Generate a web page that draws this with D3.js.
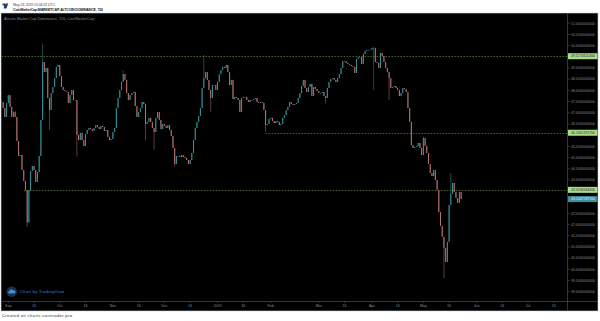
<!DOCTYPE html>
<html><head><meta charset="utf-8">
<script src="https://cdn.jsdelivr.net/npm/d3@7"></script>
<style>html,body{margin:0;padding:0;background:#fff;}svg{display:block;}</style>
</head><body>
<svg id="c" width="600" height="321"></svg>
<script>
// ---- data (daily closes, starting 2018-08-28) ----
const startDate = "2018-08-28";
const closes = [
47.48,47.21,46.81,47.43,47.79,47.27,46.82,47.05,46.81,45.74,
45.07,45.11,44.44,43.95,43.55,42.10,43.55,44.40,44.62,44.44,
43.91,44.35,45.07,46.68,49.27,48.82,49.00,47.66,47.12,47.88,
48.15,48.55,49.05,49.14,48.64,48.15,48.02,47.97,47.93,47.44,
47.79,48.02,47.57,47.57,46.01,45.78,46.10,45.78,45.51,46.05,
46.23,46.32,46.27,46.19,46.32,46.45,46.36,46.27,46.41,46.36,
46.19,46.23,45.92,45.78,45.83,46.14,46.32,47.21,47.66,48.02,
48.38,48.73,48.47,47.88,47.57,47.79,47.88,47.93,47.30,46.81,
47.03,47.21,47.48,47.39,46.50,46.59,46.77,46.59,46.32,46.14,
46.77,47.03,46.68,46.27,46.50,46.41,46.32,46.45,46.23,45.96,
45.43,44.71,45.07,45.07,45.02,45.11,45.02,44.98,44.89,44.71,
44.89,45.20,45.78,46.32,46.59,46.86,47.21,48.11,48.55,48.82,
48.47,48.02,47.66,48.24,48.24,48.02,48.38,48.73,48.91,49.05,
49.00,49.14,48.82,48.24,48.47,47.61,47.71,47.66,47.57,47.03,
47.66,47.71,47.71,47.57,47.48,47.57,47.57,47.61,47.66,47.48,
47.44,47.48,47.44,47.12,46.45,46.50,46.72,46.77,46.63,46.54,
46.63,46.59,46.45,46.50,46.77,46.90,47.12,47.26,47.48,47.39,
47.35,47.39,47.44,47.66,47.88,48.20,48.47,48.11,47.93,48.15,
48.29,47.75,48.15,48.06,47.97,47.88,47.88,47.93,47.75,47.66,
48.11,48.38,48.51,48.55,48.47,48.38,48.55,48.73,49.00,49.31,
49.31,49.23,49.18,49.14,49.09,49.05,48.78,49.40,49.49,49.49,
49.18,49.63,49.76,49.81,49.81,49.81,49.90,49.90,49.27,49.23,
49.00,49.67,49.54,49.27,49.00,48.82,48.55,48.11,48.15,48.20,
48.11,48.02,47.75,47.88,48.11,48.06,47.93,47.21,46.59,45.56,
45.43,45.47,45.52,45.65,45.43,45.11,45.87,45.52,45.20,44.71,
44.31,44.17,44.44,43.99,43.55,42.56,41.94,41.45,40.96,40.33,
41.23,42.88,43.37,43.86,43.46,43.19,42.97,43.46,43.14
];
// notable wicks: [day index, value]
const wickHighs = [[24,50.10],[71,48.90],[118,49.58],[211,49.66],[217,49.95],[246,45.93],[262,44.31]];
const wickLows  = [[15,41.90],[28,46.23],[44,45.04],[84,45.78],[89,45.34],[101,44.59],[122,47.05],[154,46.15],[189,47.42],[217,48.02],[226,47.57],[258,39.61]];
// horizontal levels: [value, label, start day index]
const levelValues = [49.5274625400, 46.1061195700, 43.5534563400];
const levelLabels = ["49.5274625400","46.1061195700","43.5534563400"];
const levelStarts = [0, 154, 13];
const lastLabel = "43.1447287100";
const priceTicks = d3.range(39, 51.001, 0.5);
const headerDate = "May 23, 2019 15:04:22 UTC";
const headerSymbol = "CoinMarketCap:MARKETCAP-ALTCOIN DOMINANCE, 720";
const seriesTitle = "Altcoin Market Cap Dominance, 720, CoinMarketCap";

// ---- drawing ----
const svg = d3.select("#c");
const P = {left:1, top:13, right:598, bottom:311, axisX:567.5, timeY:301.5};
const t0 = new Date(startDate + "T00:00:00Z");
const dates = closes.map((_,i)=>d3.utcDay.offset(t0,i));
const x = d3.scaleUtc().domain([new Date(Date.UTC(2018,8,1)), new Date(Date.UTC(2019,6,1))]).range([8.3,528]);
const y = d3.scaleLinear().domain([39,51]).range([291.7,23.3]);

// header
svg.append("rect").attr("width",600).attr("height",321).attr("fill","#fff");
const logo = svg.append("g").attr("transform","translate(2.5,2.6)");
logo.append("path").attr("d","M0,1 h3 v5 h-1.6 v-3.4 h-1.4z M3.3,1 h2.4 l-1.8,5 h-1.4z").attr("fill","#1e3a6e");
svg.append("text").attr("x",13).attr("y",5.6).attr("font-family","Arial, Liberation Sans, sans-serif")
  .attr("font-size",3.6).attr("fill","#444").attr("textLength",42).text(headerDate);
svg.append("text").attr("x",13).attr("y",10.6).attr("font-family","Arial, Liberation Sans, sans-serif")
  .attr("font-size",3.6).attr("font-weight","bold").attr("fill","#222").attr("textLength",90).text(headerSymbol);

// panel
svg.append("rect").attr("x",P.left).attr("y",P.top).attr("width",P.right-P.left).attr("height",P.bottom-P.top)
  .attr("fill","#000").attr("stroke","#c9d3e0").attr("stroke-width",0.6);

svg.append("text").attr("x",4).attr("y",19.6).attr("font-family","Arial, Liberation Sans, sans-serif")
  .attr("font-size",3.7).attr("fill","#8a8e98").attr("textLength",90).text(seriesTitle);

// level lines
levelValues.forEach((v,i)=>{
  svg.append("line").attr("x1",x(dates[levelStarts[i]])).attr("x2",P.axisX)
    .attr("y1",Math.round(y(v))+0.5).attr("y2",Math.round(y(v))+0.5)
    .attr("stroke","#55793a").attr("stroke-width",0.8).attr("stroke-dasharray","1.6,1.4");
});

// candles
const up="#38939b", down="#b9736f";
const hiMap=new Map(wickHighs), loMap=new Map(wickLows);
const g = svg.append("g");
closes.forEach((c,i)=>{
  const o = i===0 ? c : closes[i-1];
  let hi=Math.max(o,c), lo=Math.min(o,c);
  if(hiMap.has(i)) hi=Math.max(hi,hiMap.get(i));
  if(loMap.has(i)) lo=Math.min(lo,loMap.get(i));
  const cx = x(dates[i]);
  const col = c>=o?up:down;
  g.append("line").attr("x1",cx).attr("x2",cx).attr("y1",y(hi)).attr("y2",y(lo)).attr("stroke",col).attr("stroke-width",0.5);
  const top=y(Math.max(o,c)), bot=y(Math.min(o,c));
  g.append("rect").attr("x",cx-0.5).attr("width",1.0).attr("y",top).attr("height",Math.max(0.6,bot-top)).attr("fill",col);
});

// price axis
svg.append("line").attr("x1",P.axisX).attr("x2",P.axisX).attr("y1",P.top).attr("y2",P.bottom).attr("stroke","#4a4d55").attr("stroke-width",0.7);
const hidden = levelValues.concat([closes[closes.length-1]]).map(v=>y(v));
const ya = svg.append("g");
priceTicks.forEach(v=>{
  const py=y(v);
  if(hidden.some(h=>Math.abs(h-py)<4.5)) return;
  ya.append("line").attr("x1",P.axisX).attr("x2",P.axisX+2).attr("y1",py).attr("y2",py).attr("stroke","#6a6d75").attr("stroke-width",0.5);
  ya.append("text").attr("x",571).attr("y",py+1.2).attr("font-family","Arial, Liberation Sans, sans-serif")
    .attr("font-size",3.4).attr("fill","#8a8e98").attr("textLength",24).text(v.toFixed(10));
});
function badge(v,label,fill,txt){
  const py=y(v);
  ya.append("rect").attr("x",P.axisX+0.5).attr("y",py-3).attr("width",29.5).attr("height",6).attr("fill",fill);
  ya.append("text").attr("x",571).attr("y",py+1.2).attr("font-family","Arial, Liberation Sans, sans-serif")
    .attr("font-size",3.4).attr("fill",txt).attr("textLength",24).text(label);
}
levelValues.forEach((v,i)=>badge(v,levelLabels[i],"#a9dc8c","#1b2a12"));
badge(closes[closes.length-1],lastLabel,"#3d8ea0","#e8f4f6");

// time axis
svg.append("line").attr("x1",P.left).attr("x2",P.right).attr("y1",P.timeY).attr("y2",P.timeY).attr("stroke","#4a4d55").attr("stroke-width",0.7);
const tickDates=[];
for(let m=0;m<11;m++){
  const d1=new Date(Date.UTC(2018,8+m,1)), d16=new Date(Date.UTC(2018,8+m,16));
  tickDates.push(d1);
  if(!(d16.getUTCMonth()===1)) tickDates.push(d16);
}
const fmt=d=>d.getUTCDate()===16?"16":(d.getUTCMonth()===0?String(d.getUTCFullYear()):d3.utcFormat("%b")(d));
const xa = svg.append("g");
tickDates.forEach(d=>{
  const px=x(d);
  xa.append("line").attr("x1",px).attr("x2",px).attr("y1",P.timeY).attr("y2",P.timeY+1.5).attr("stroke","#6a6d75").attr("stroke-width",0.5);
  xa.append("text").attr("x",px).attr("y",306.8).attr("text-anchor","middle").attr("font-family","Arial, Liberation Sans, sans-serif")
    .attr("font-size",3.6).attr("fill","#8a8e98").text(fmt(d));
});

// watermark
const wm=svg.append("g");
wm.append("circle").attr("cx",11.7).attr("cy",291.7).attr("r",5).attr("fill","#1f2a44").attr("stroke","#2c3a5c").attr("stroke-width",0.5);
wm.append("path").attr("d","M8.6,293.4 a1.4,1.4 0 0 1 0.9,-2.5 a2.1,2.1 0 0 1 4,-0.4 a1.4,1.4 0 0 1 1,2.9 z").attr("fill","#3b8fd9");
wm.append("text").attr("x",20).attr("y",293.2).attr("font-family","Arial, Liberation Sans, sans-serif")
  .attr("font-size",3.9).attr("fill","#2f8fe6").attr("textLength",44).text("Chart by TradingView");

// footer
svg.append("text").attr("x",2).attr("y",316.6).attr("font-family","Arial, Liberation Sans, sans-serif")
  .attr("font-size",4.2).attr("fill","#333").attr("textLength",70).text("Created on charts.cointrader.pro");
</script>
</body></html>
